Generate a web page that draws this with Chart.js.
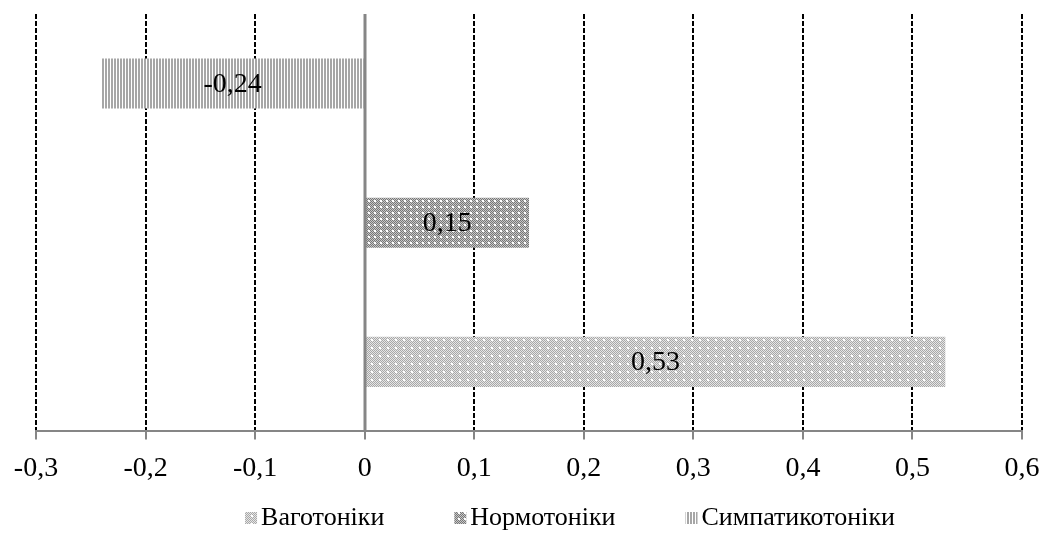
<!DOCTYPE html>
<html>
<head>
<meta charset="utf-8">
<script src="https://cdn.jsdelivr.net/npm/chart.js@4"></script>
<style>
  html, body { margin: 0; padding: 0; background: #fff; }
  #wrap { width: 1045px; height: 536px; }
</style>
</head>
<body>
<div id="wrap"><canvas id="chart" width="1045" height="536"></canvas></div>
<script>
// Дані
const categories = ['Симпатикотоніки', 'Нормотоніки', 'Ваготоніки'];
const seriesNames = ['Ваготоніки', 'Нормотоніки', 'Симпатикотоніки'];
const vagotoniky = [null, null, 0.53];
const normotoniky = [null, 0.15, null];
const sympatykotoniky = [-0.24, null, null];
const xMin = -0.3, xMax = 0.6, xStep = 0.1;

const FONT = '"Liberation Serif", "Times New Roman", serif';

// Візерунки заливки
function makePattern(size, draw) {
    const c = document.createElement('canvas');
    c.width = size; c.height = size;
    const g = c.getContext('2d');
    draw(g);
    return c.getContext('2d').createPattern(c, 'repeat');
}

const lightChecker = makePattern(8, g => {
    g.fillStyle = '#e6e6e6';
    g.fillRect(0, 0, 8, 8);
    g.fillStyle = '#a8a8a8';
    for (let y = 0; y < 8; y++)
        for (let x = 0; x < 8; x++)
            if ((x + y) % 2 === 0) g.fillRect(x, y, 1, 1);
    g.fillStyle = '#ffffff';
    g.fillRect(3, 3, 2, 2);
});

const darkChecker = makePattern(6, g => {
    g.fillStyle = '#c8c8c8';
    g.fillRect(0, 0, 6, 6);
    g.fillStyle = '#777777';
    for (let y = 0; y < 6; y++)
        for (let x = 0; x < 6; x++)
            if ((x + y) % 2 === 0) g.fillRect(x, y, 1, 1);
    g.fillStyle = '#ffffff';
    g.fillRect(2, 2, 2, 2);
});

const stripes = makePattern(3, g => {
    g.fillStyle = '#ffffff';
    g.fillRect(0, 0, 3, 3);
    g.fillStyle = '#a6a6a6';
    g.fillRect(0, 0, 2, 3);
});

function fmt(v) {
    const r = Math.round(v * 100) / 100;
    return r === 0 ? '0' : String(r).replace('.', ',');
}

// Підписи даних у центрі стовпчиків
const barLabels = {
    id: 'barLabels',
    afterDatasetsDraw(chart) {
        const ctx = chart.ctx;
        ctx.save();
        ctx.font = '28px ' + FONT;
        ctx.fillStyle = '#000';
        ctx.textAlign = 'center';
        ctx.textBaseline = 'middle';
        chart.data.datasets.forEach((ds, i) => {
            chart.getDatasetMeta(i).data.forEach((el, j) => {
                const v = ds.data[j];
                if (v === null) return;
                const p = el.getCenterPoint();
                ctx.fillText(fmt(v), p.x, p.y + 1);
            });
        });
        ctx.restore();
    }
};

// Вертикальна вісь у точці 0
const zeroLine = {
    id: 'zeroLine',
    afterDatasetsDraw(chart) {
        const ctx = chart.ctx;
        const x = Math.round(chart.scales.x.getPixelForValue(0));
        const a = chart.chartArea;
        ctx.save();
        ctx.strokeStyle = '#868686';
        ctx.lineWidth = 3;
        ctx.beginPath();
        ctx.moveTo(x, a.top);
        ctx.lineTo(x, a.bottom);
        ctx.stroke();
        ctx.restore();
    }
};

// Легенда внизу (як в Excel: маленький квадрат, текст впритул)
const bottomLegend = {
    id: 'bottomLegend',
    afterDraw(chart) {
        const ctx = chart.ctx;
        const box = 12, gapText = 4, gapItem = 70, y = 518, cx = 570;
        ctx.save();
        ctx.font = '26px ' + FONT;
        ctx.textBaseline = 'middle';
        const items = chart.data.datasets.map(ds => ({
            text: ds.label, fill: ds.backgroundColor, w: ctx.measureText(ds.label).width
        }));
        const total = items.reduce((s, it) => s + box + gapText + it.w, 0) + gapItem * (items.length - 1);
        let x = cx - total / 2;
        items.forEach(it => {
            ctx.fillStyle = it.fill;
            ctx.fillRect(x, y - box / 2, box, box);
            ctx.fillStyle = '#000';
            ctx.fillText(it.text, x + box + gapText, y);
            x += box + gapText + it.w + gapItem;
        });
        ctx.restore();
    }
};

new Chart(document.getElementById('chart').getContext('2d'), {
    type: 'bar',
    data: {
        labels: categories,
        datasets: [
            { label: seriesNames[0], data: vagotoniky, backgroundColor: lightChecker },
            { label: seriesNames[1], data: normotoniky, backgroundColor: darkChecker },
            { label: seriesNames[2], data: sympatykotoniky, backgroundColor: stripes }
        ]
    },
    options: {
        indexAxis: 'y',
        responsive: false,
        animation: false,
        grouped: false,
        categoryPercentage: 1,
        barPercentage: 0.36,
        layout: { padding: { left: 0, right: 0, top: 14, bottom: 39 } },
        scales: {
            x: {
                min: xMin,
                max: xMax,
                afterFit: s => { s.paddingLeft = 36; s.paddingRight = 23; },
                ticks: {
                    stepSize: xStep,
                    color: '#000',
                    padding: 12,
                    font: { family: FONT, size: 28 },
                    callback: v => fmt(v)
                },
                grid: {
                    color: c => (c.tick && Math.abs(c.tick.value) < 1e-9) ? 'rgba(0,0,0,0)' : '#000',
                    lineWidth: 2,
                    tickColor: '#868686',
                    tickWidth: 2,
                    tickLength: 8,
                    tickBorderDash: [0, 0]
                },
                border: { display: true, color: '#868686', width: 2, dash: [5, 2] }
            },
            y: {
                ticks: { display: false },
                grid: { display: false },
                border: { display: false }
            }
        },
        plugins: {
            legend: { display: false },
            tooltip: { enabled: false }
        }
    },
    plugins: [barLabels, zeroLine, bottomLegend]
});
</script>
</body>
</html>
